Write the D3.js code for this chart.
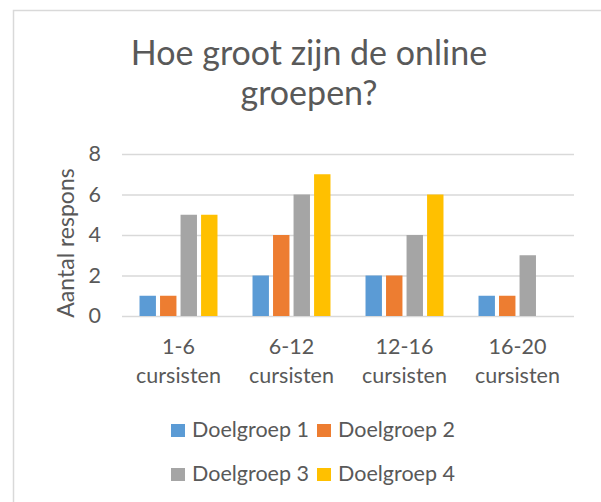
<!DOCTYPE html>
<html>
<head>
<meta charset="utf-8">
<script src="https://cdn.jsdelivr.net/npm/d3@7"></script>
<style>
  html, body { margin: 0; padding: 0; background: #fff; }
  svg text { font-family: Lato, "Liberation Sans", sans-serif; fill: #595959; }
</style>
</head>
<body>
<svg id="chart" width="601" height="502"></svg>
<script>
const titleLines = ["Hoe groot zijn de online", "groepen?"];
const categories = ["1-6 cursisten", "6-12 cursisten", "12-16 cursisten", "16-20 cursisten"];
const categoryLines = [["1-6", "cursisten"], ["6-12", "cursisten"], ["12-16", "cursisten"], ["16-20", "cursisten"]];
const seriesNames = ["Doelgroep 1", "Doelgroep 2", "Doelgroep 3", "Doelgroep 4"];
const doelgroep1 = [1, 2, 2, 1];
const doelgroep2 = [1, 4, 2, 1];
const doelgroep3 = [5, 6, 4, 3];
const doelgroep4 = [5, 7, 6, 0];
const yTicks = [0, 2, 4, 6, 8];
const yLabel = "Aantal respons";
const colors = ["#5B9BD5", "#ED7D31", "#A5A5A5", "#FFC000"];

const seriesValues = [doelgroep1, doelgroep2, doelgroep3, doelgroep4];

const svg = d3.select("#chart");

svg.append("rect")
  .attr("x", 13.5).attr("y", 10.5)
  .attr("width", 620).attr("height", 520)
  .attr("fill", "#fff").attr("stroke", "#d9d9d9").attr("stroke-width", 1.5);

const plot = { left: 122, right: 574, top: 154, bottom: 316 };

const x0 = d3.scaleBand().domain(categories).range([plot.left, plot.right])
  .paddingInner(0.31).paddingOuter(0.155);
const x1 = d3.scaleBand().domain(seriesNames).range([0, x0.bandwidth()]).paddingInner(0.2);
const y = d3.scaleLinear().domain([0, 8]).range([plot.bottom, plot.top]);

const yAxis = d3.axisLeft(y).tickValues(yTicks).tickSize(-(plot.right - plot.left)).tickPadding(21);
const gy = svg.append("g").attr("transform", `translate(${plot.left},0)`).call(yAxis);
gy.select(".domain").remove();
gy.selectAll(".tick line").attr("stroke", "#d9d9d9").attr("stroke-width", 1.5);
gy.selectAll(".tick text").style("font-size", "21.5px").style("font-family", "Lato, sans-serif").attr("fill", "#595959");

const groups = svg.append("g").selectAll("g")
  .data(categories).join("g")
  .attr("transform", d => `translate(${x0(d)},0)`);

groups.selectAll("rect")
  .data((c, ci) => seriesNames.map((s, si) => ({ s, si, v: seriesValues[si][ci] })))
  .join("rect")
  .filter(d => d.v > 0)
  .attr("x", d => x1(d.s))
  .attr("width", x1.bandwidth())
  .attr("y", d => y(d.v))
  .attr("height", d => y(0) - y(d.v))
  .attr("fill", d => colors[d.si]);

const xl = svg.append("g");
categories.forEach((c, i) => {
  const cx = x0(c) + x0.bandwidth() / 2;
  const t = xl.append("text").attr("text-anchor", "middle").style("font-size", "21.5px");
  categoryLines[i].forEach((line, li) => {
    t.append("tspan").attr("x", cx).attr("y", 354 + li * 29).text(line);
  });
});

svg.append("g").selectAll("text").data(titleLines).join("text")
  .attr("x", 309).attr("y", (d, i) => 65 + i * 40)
  .attr("text-anchor", "middle")
  .style("font-size", "34px")
  .text(d => d);

svg.append("text")
  .attr("transform", "translate(74,243) rotate(-90)")
  .attr("text-anchor", "middle")
  .style("font-size", "23px")
  .text(yLabel);

const legendCols = [171, 317];
const legendRows = [437, 481];
const lg = svg.append("g").selectAll("g").data(seriesNames).join("g")
  .attr("transform", (d, i) => `translate(${legendCols[i % 2]},${legendRows[Math.floor(i / 2)]})`);
lg.append("rect").attr("x", 0).attr("y", -13).attr("width", 14).attr("height", 13)
  .attr("fill", (d, i) => colors[i]);
lg.append("text").attr("x", 21).attr("y", 0).style("font-size", "21.5px").text(d => d);
</script>
</body>
</html>
